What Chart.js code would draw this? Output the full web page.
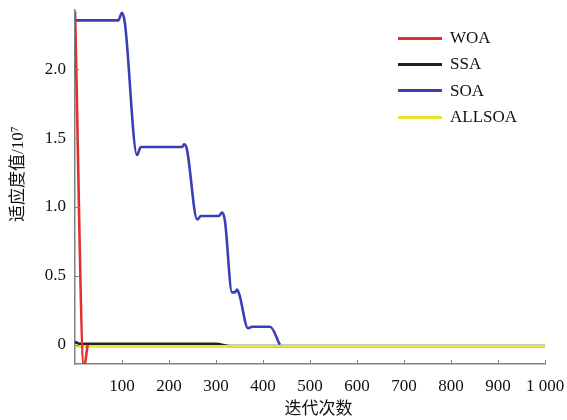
<!DOCTYPE html>
<html>
<head>
<meta charset="utf-8">
<script src="https://cdn.jsdelivr.net/npm/chart.js@4/dist/chart.umd.min.js"></script>
<style>
  html, body { margin: 0; padding: 0; background: #fff; }
  #wrap { position: relative; width: 567px; height: 420px; }
  #legend { position: absolute; left: 398px; top: 25px; font-family: 'Liberation Serif', serif; font-size: 17px; color: #111; }
  #legend div { height: 26.3px; display: flex; align-items: center; }
  #legend span.line { display: inline-block; width: 44px; height: 3px; margin-right: 8px; }
</style>
</head>
<body>
<div id="wrap">
  <canvas id="c" width="567" height="420"></canvas>
  <div id="legend"></div>
</div>
<script>
var seriesNames = ['WOA', 'SSA', 'SOA', 'ALLSOA'];
var seriesColors = ['#e2302f', '#222222', '#3b3fb5', '#e6e632'];

var woaX = [0, 19, 27];
var woaY = [2.42, -0.16, 0];

var ssaX = [0, 4, 10, 300, 330, 1000];
var ssaY = [0.02, 0.014, 0.006, 0.006, -0.01, -0.01];

var soaX = [0, 92, 100, 106, 132, 140, 228, 232, 238, 260, 268, 306, 313, 319, 334, 340, 345, 350, 368, 377, 415, 436];
var soaY = [2.355, 2.355, 2.41, 2.34, 1.377, 1.435, 1.435, 1.455, 1.42, 0.91, 0.935, 0.935, 0.96, 0.9, 0.38, 0.38, 0.40, 0.36, 0.12, 0.13, 0.13, 0];

var allsoaX = [0, 1000];
var allsoaY = [-0.012, -0.012];

var xTicks = [100, 200, 300, 400, 500, 600, 700, 800, 900, 1000];
var xTickLabels = ['100', '200', '300', '400', '500', '600', '700', '800', '900', '1 000'];
var yTicks = [0, 0.5, 1.0, 1.5, 2.0];
var yTickLabels = ['0', '0.5', '1.0', '1.5', '2.0'];

function pts(xs, ys) {
  return xs.map(function (x, i) { return { x: x, y: ys[i] }; });
}

var seriesData = [pts(woaX, woaY), pts(ssaX, ssaY), pts(soaX, soaY), pts(allsoaX, allsoaY)];
var drawOrder = [0, 3, 1, 2];

var serif = "'Liberation Serif', 'Times New Roman', 'Noto Sans CJK SC', serif";

// small inward tick marks on the axes
var innerTicks = {
  id: 'innerTicks',
  afterDraw: function (chart) {
    var ctx = chart.ctx;
    var xs = chart.scales.x, ys = chart.scales.y, area = chart.chartArea;
    ctx.save();
    ctx.strokeStyle = '#808080';
    ctx.lineWidth = 1;
    ctx.beginPath();
    xTicks.forEach(function (v) {
      var px = Math.round(xs.getPixelForValue(v)) + 0.5;
      ctx.moveTo(px, area.bottom);
      ctx.lineTo(px, area.bottom - 4);
    });
    yTicks.forEach(function (v) {
      var py = Math.round(ys.getPixelForValue(v)) + 0.5;
      ctx.moveTo(area.left, py);
      ctx.lineTo(area.left + 4, py);
    });
    ctx.stroke();
    ctx.restore();
  }
};

new Chart(document.getElementById('c'), {
  type: 'line',
  data: {
    datasets: seriesNames.map(function (name, i) {
      return {
        label: name,
        data: seriesData[i],
        borderColor: seriesColors[i],
        backgroundColor: seriesColors[i],
        borderWidth: 2.6,
        pointRadius: 0,
        cubicInterpolationMode: 'monotone',
        order: drawOrder[i]
      };
    })
  },
  options: {
    responsive: false,
    animation: false,
    layout: { padding: { top: 10, right: 22, left: 0, bottom: 0 } },
    plugins: { legend: { display: false }, tooltip: { enabled: false } },
    scales: {
      x: {
        type: 'linear',
        min: 0,
        max: 1000,
        afterFit: function (s) { s.height = 56; s.paddingLeft = 0; s.paddingRight = 0; },
        afterBuildTicks: function (s) { s.ticks = xTicks.map(function (v) { return { value: v }; }); },
        grid: { display: false, drawTicks: false },
        border: { color: '#808080', width: 1.5 },
        ticks: {
          padding: 12,
          color: '#111',
          maxRotation: 0,
          autoSkip: false,
          font: { family: serif, size: 17 },
          callback: function (v) { return xTickLabels[xTicks.indexOf(v)]; }
        },
        title: {
          display: true,
          text: '\u2002\u2002迭代次数',
          color: '#111',
          padding: { top: 0, bottom: 0 },
          font: { family: serif, size: 17 }
        }
      },
      y: {
        type: 'linear',
        min: -0.14,
        max: 2.43,
        afterFit: function (s) { s.width = 75; s.paddingTop = 0; s.paddingBottom = 0; },
        afterBuildTicks: function (s) { s.ticks = yTicks.map(function (v) { return { value: v }; }); },
        grid: { display: false, drawTicks: false },
        border: { color: '#808080', width: 1.5 },
        ticks: {
          padding: 9,
          color: '#111',
          font: { family: serif, size: 17 },
          callback: function (v) { return yTickLabels[yTicks.indexOf(v)]; }
        },
        title: {
          display: true,
          text: '\u2002\u2002\u2002适应度值/10\u2077',
          color: '#111',
          padding: { top: 8, bottom: 0 },
          font: { family: serif, size: 17 }
        }
      }
    }
  },
  plugins: [innerTicks]
});

var legend = document.getElementById('legend');
seriesNames.forEach(function (name, i) {
  var row = document.createElement('div');
  var line = document.createElement('span');
  line.className = 'line';
  line.style.background = seriesColors[i];
  row.appendChild(line);
  row.appendChild(document.createTextNode(name));
  legend.appendChild(row);
});
</script>
</body>
</html>
